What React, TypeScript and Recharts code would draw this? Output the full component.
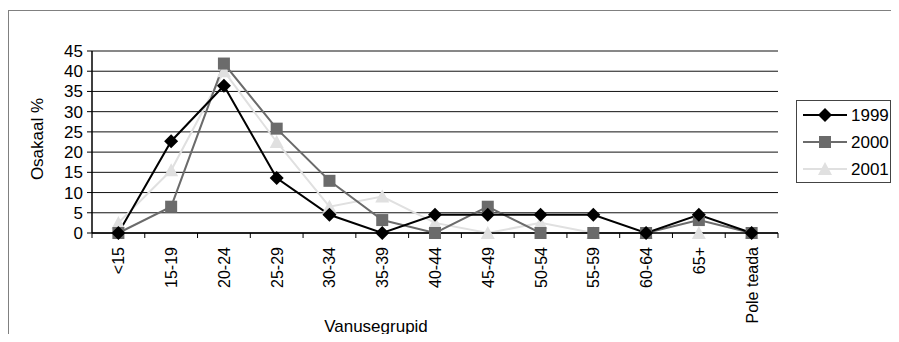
import { CartesianGrid, Line, LineChart, XAxis, YAxis } from 'recharts'

const categories = ['<15', '15-19', '20-24', '25-29', '30-34', '35-39', '40-44', '45-49', '50-54', '55-59', '60-64', '65+', 'Pole teada']
const values1999 = [0, 22.7, 36.4, 13.6, 4.5, 0, 4.5, 4.5, 4.5, 4.5, 0, 4.5, 0]
const values2000 = [0, 6.5, 41.9, 25.8, 12.9, 3.2, 0, 6.5, 0, 0, 0, 3.2, 0]
const values2001 = [2.5, 15.5, 40, 22.5, 6.5, 9, 2.5, 0, 2.5, 0, 0, 0, 0]
const yTicks = [0, 5, 10, 15, 20, 25, 30, 35, 40, 45]

const data = categories.map((c, i) => ({
  group: c,
  y1999: values1999[i],
  y2000: values2000[i],
  y2001: values2001[i],
}))

const FONT = '"Liberation Sans", Arial, sans-serif'
const C1999 = '#000000'
const C2000 = '#6b6b6b'
const C2001 = '#e0e0e0'

const PLOT_LEFT = 92
const PLOT_RIGHT = 778
const BAND = (PLOT_RIGHT - PLOT_LEFT) / categories.length

function Diamond({ cx, cy }: any) {
  if (cx == null || cy == null) return null
  const r = 7
  return <path d={`M${cx},${cy - r}L${cx + r},${cy}L${cx},${cy + r}L${cx - r},${cy}Z`} fill={C1999} />
}

function Square({ cx, cy }: any) {
  if (cx == null || cy == null) return null
  const r = 6
  return <rect x={cx - r} y={cy - r} width={r * 2} height={r * 2} fill={C2000} />
}

function Triangle({ cx, cy }: any) {
  if (cx == null || cy == null) return null
  return <path d={`M${cx},${cy - 7}L${cx + 7},${cy + 6}L${cx - 7},${cy + 6}Z`} fill={C2001} />
}

function XTick({ x, y, payload, index }: any) {
  const last = index === categories.length - 1
  return (
    <g>
      <line x1={x - BAND / 2} x2={x - BAND / 2} y1={y - 8} y2={y - 3} stroke="#000" />
      {last && <line x1={x + BAND / 2} x2={x + BAND / 2} y1={y - 8} y2={y - 3} stroke="#000" />}
      <text
        x={0}
        y={0}
        transform={`translate(${x + 6},${y + 6}) rotate(-90)`}
        textAnchor="end"
        fontFamily={FONT}
        fontSize={16}
        fill="#000"
      >
        {payload.value}
      </text>
    </g>
  )
}

function LegendBox() {
  const rows = [
    { name: '1999', color: C1999, Mark: Diamond },
    { name: '2000', color: C2000, Mark: Square },
    { name: '2001', color: C2001, Mark: Triangle },
  ]
  return (
    <div style={{ position: 'absolute', left: 796, top: 100, width: 95, height: 83, border: '1px solid #444', background: '#fff', boxSizing: 'border-box' }}>
      <svg width={93} height={81} style={{ display: 'block' }}>
        {rows.map((r, i) => {
          const cy = 14 + i * 27
          return (
            <g key={r.name}>
              <line x1={6} x2={50} y1={cy} y2={cy} stroke={r.color} strokeWidth={2} />
              <r.Mark cx={28} cy={cy} />
              <text x={54} y={cy + 6} fontFamily={FONT} fontSize={17} fill="#000">
                {r.name}
              </text>
            </g>
          )
        })}
      </svg>
    </div>
  )
}

export default function App() {
  return (
    <div style={{ position: 'relative', width: 899, height: 342, margin: -8, background: '#fff', overflow: 'hidden' }}>
      <div style={{ position: 'absolute', left: 8, top: 10, width: 891, height: 332, borderTop: '1px solid #808080', borderLeft: '1px solid #808080' }} />
      <LineChart
        width={899}
        height={342}
        data={data}
        margin={{ top: 51, right: 899 - PLOT_RIGHT, bottom: 0, left: 32 }}
        style={{ position: 'absolute', left: 0, top: 0 }}
      >
        <CartesianGrid vertical={false} stroke="#111" horizontalValues={yTicks} />
        <XAxis
          dataKey="group"
          padding={{ left: BAND / 2, right: BAND / 2 }}
          height={109}
          interval={0}
          tickLine={false}
          axisLine={{ stroke: '#000', strokeWidth: 1.5 }}
          tick={<XTick />}
        />
        <YAxis
          domain={[0, 45]}
          ticks={yTicks}
          width={60}
          interval={0}
          tickSize={5}
          tickLine={{ stroke: '#000' }}
          axisLine={{ stroke: '#000', strokeWidth: 1.5 }}
          tick={{ fill: '#000', fontSize: 17, fontFamily: FONT, dx: -2 }}
        />
        <YAxis yAxisId="r" orientation="right" width={0} domain={[0, 45]} tick={false} tickLine={false} axisLine={{ stroke: '#888', strokeWidth: 2 }} />
        <Line dataKey="y2001" name="2001" stroke={C2001} strokeWidth={2} dot={<Triangle />} activeDot={false} isAnimationActive={false} />
        <Line dataKey="y2000" name="2000" stroke={C2000} strokeWidth={2} dot={<Square />} activeDot={false} isAnimationActive={false} />
        <Line dataKey="y1999" name="1999" stroke={C1999} strokeWidth={2} dot={<Diamond />} activeDot={false} isAnimationActive={false} />
      </LineChart>
      <LegendBox />
      <div style={{ position: 'absolute', left: 38, top: 139, transform: 'translate(-50%, -50%) rotate(-90deg)', fontFamily: FONT, fontSize: 17, whiteSpace: 'nowrap' }}>
        Osakaal %
      </div>
      <div style={{ position: 'absolute', left: 376, top: 327, transform: 'translate(-50%, -50%)', fontFamily: FONT, fontSize: 17, whiteSpace: 'nowrap' }}>
        Vanusegrupid
      </div>
    </div>
  )
}
